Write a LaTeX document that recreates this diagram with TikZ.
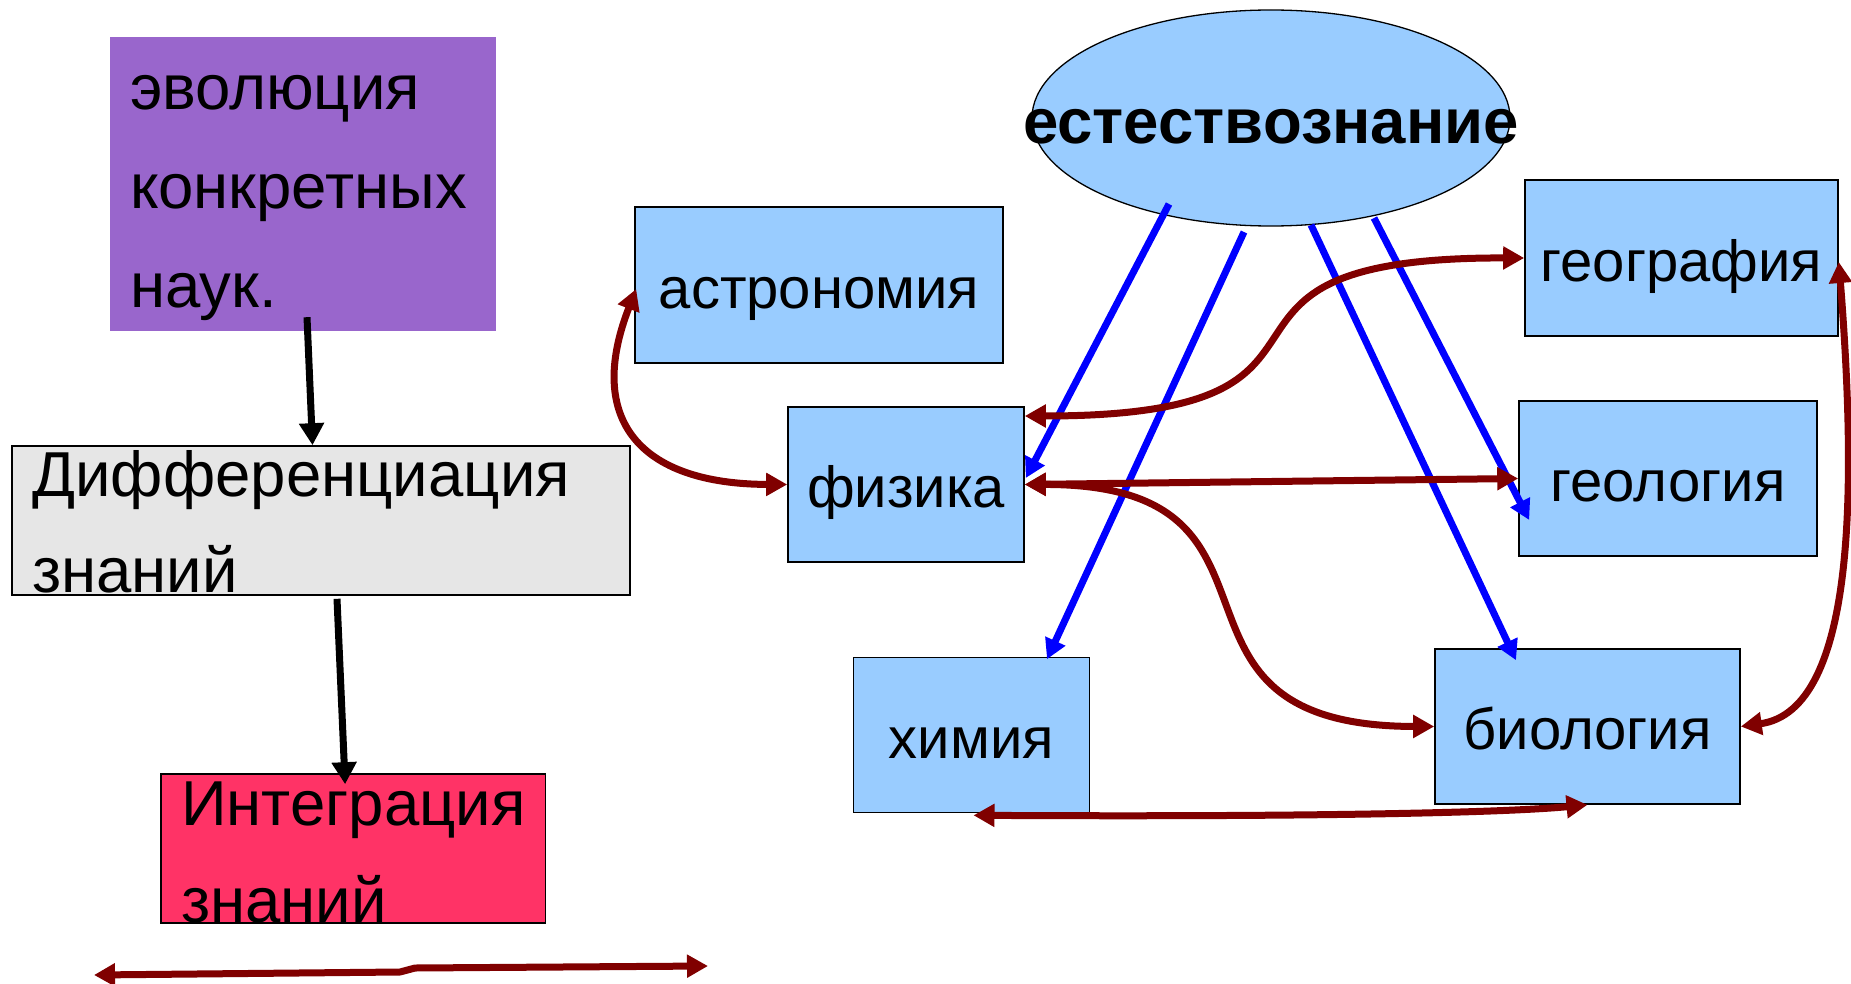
\documentclass[tikz,border=0pt]{standalone}
\usepackage{fontspec}
\setmainfont{Liberation Sans}
\usetikzlibrary{arrows.meta,shapes.geometric}
\definecolor{purp}{HTML}{9966CC}
\definecolor{greyb}{HTML}{E6E6E6}
\definecolor{pinkb}{HTML}{FF3366}
\definecolor{skyb}{HTML}{99CCFF}
\definecolor{maroonc}{HTML}{800000}
\definecolor{bluec}{HTML}{0000FF}
\tikzset{
  sci/.style={draw=black, line width=1.6pt, fill=skyb, rectangle, inner sep=0pt,
    font=\fontsize{58}{70}\selectfont, text height=46pt, text depth=0pt},
  leftbox/.style={rectangle, inner sep=0pt},
  blk/.style={draw=black, line width=7pt, -{Triangle[length=22pt,width=24pt]}},
  blu/.style={draw=bluec, line width=7pt, -{Triangle[length=20pt,width=21pt]}},
  mar/.style={draw=maroonc, line width=7pt, {Triangle[length=21pt,width=22pt]}-{Triangle[length=21pt,width=22pt]}},
}
\begin{document}
\begin{tikzpicture}[x=1pt,y=-1pt]
\useasboundingbox (0,0) rectangle (1851,984);
% left column
\node[leftbox, fill=purp] (evo) at (302.75,184)
  {\parbox[c][294pt][t]{385.5pt}{\fontsize{63.5}{99}\selectfont\leftskip=20pt\rule{0pt}{73pt}эволюция\\конкретных\\наук.}};
\node[leftbox, fill=greyb, draw=black, line width=1.6pt] (diff) at (321,520.5)
  {\parbox[c][149pt][t]{618pt}{\fontsize{63.5}{96}\selectfont\leftskip=20.5pt\rule{0pt}{50.6pt}Дифференциация\\знаний}};
\node[leftbox, fill=pinkb, draw=black, line width=1.6pt] (integ) at (353.1,848.5)
  {\parbox[c][149pt][t]{384.8pt}{\fontsize{63.5}{97}\selectfont\leftskip=20.5pt\rule{0pt}{51pt}Интеграция\\знаний}};
% right part
\node[ellipse, draw=black, line width=1.3pt, fill=skyb, minimum width=478pt, minimum height=216pt, inner sep=0pt,
  label={[font=\bfseries\fontsize{63.5}{70}\selectfont, text height=51pt, text depth=0pt, inner sep=0pt]center:естествознание}]
  (ell) at (1271,118) {};
\node[sci, minimum width=368pt, minimum height=156pt] (astro) at (819,285) {астрономия};
\node[sci, minimum width=236pt, minimum height=155pt] (phys) at (906,484.5) {физика};
\node[sci, minimum width=313pt, minimum height=155.6pt] (geog) at (1681.5,258) {география};
\node[sci, minimum width=298pt, minimum height=155pt] (geol) at (1668,478.5) {геология};
\node[sci, minimum width=236pt, minimum height=155pt] (chem) at (971.5,735) {химия};
\node[sci, minimum width=305pt, minimum height=155pt] (bio) at (1587.5,726.5) {биология};
% black arrows
\draw[blk] ([xshift=4.25pt,yshift=14pt]evo.south) -- ([xshift=-8.5pt]diff.north);
\draw[blk] ([xshift=16pt,yshift=-3pt]diff.south) -- ([xshift=-8pt,yshift=-11pt]integ.north);
% blue arrows
\draw[blu] ([xshift=-102pt,yshift=-86pt]ell.center) -- ([xshift=1pt,yshift=6.5pt]phys.east);
\draw[blu] ([xshift=-27pt,yshift=-114pt]ell.center) -- ([xshift=75.5pt,yshift=-2.5pt]chem.north);
\draw[blu] ([xshift=40pt,yshift=-107pt]ell.center) -- ([xshift=-71.5pt,yshift=-12pt]bio.north);
\draw[blu] ([xshift=103pt,yshift=-100pt]ell.center) -- ([xshift=11pt,yshift=-41.5pt]geol.west);
% maroon arrows
\draw[mar] ([xshift=2pt,yshift=-4pt]astro.west) .. controls (585,420) and (640,484) .. (phys.west);
\draw[mar] ([yshift=68.5pt]phys.east) .. controls (1400,416) and (1150,257) .. (geog.west);
\draw[mar] (phys.east) -- (geol.west);
\draw[mar] (phys.east) .. controls (1320,484) and (1130,726) .. (bio.west);
\draw[mar] ([yshift=-4pt]geog.east) .. controls (1856,480) and (1858,710) .. (bio.east);
\draw[mar] ([xshift=2pt,yshift=-2pt]chem.south) .. controls (1300,817) and (1500,813) .. (bio.south);
\coordinate (bl) at (94,975);
\coordinate (br) at (708,966);
\draw[mar, line join=round] (bl) -- (400,972) -- (415,968) -- (br);
\end{tikzpicture}
\end{document}
